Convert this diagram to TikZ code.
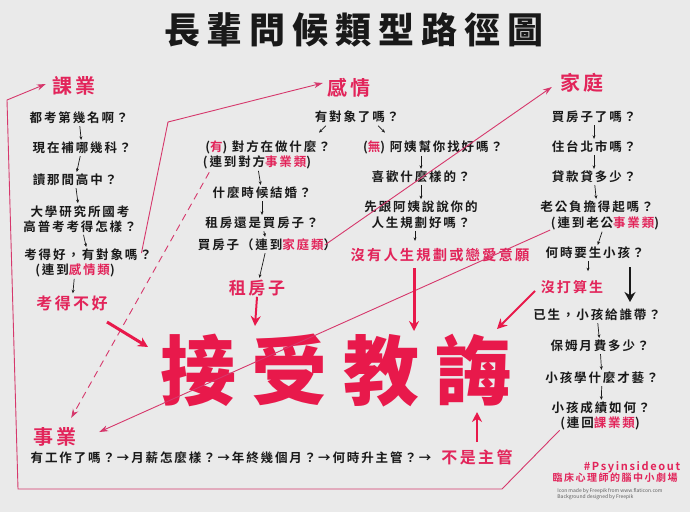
\documentclass[tikz,border=0pt]{standalone}
\usepackage{fontspec}
\usetikzlibrary{arrows.meta}
\newfontfamily\cjk{Noto Sans CJK TC}[BoldFont={Noto Sans CJK TC Bold},LetterSpace=15]
\newfontfamily\cjkw{Noto Sans CJK TC}[BoldFont={Noto Sans CJK TC Black}]
\definecolor{pk}{RGB}{226,36,90}
\definecolor{bigc}{RGB}{232,25,75}
\definecolor{ln}{RGB}{214,56,108}
\definecolor{bg}{RGB}{234,234,234}
\definecolor{ink}{RGB}{25,25,25}
\begin{document}
\begin{tikzpicture}[x=1pt,y=-1pt,
 q/.style={font=\cjk\bfseries\fontsize{12.5}{15.5}\selectfont, text=ink, inner sep=0.5pt, align=center},
 hd/.style={font=\cjk\bfseries\fontsize{20}{22}\selectfont, text=pk, inner sep=0.5pt},
 pq/.style={font=\cjk\bfseries\fontsize{#1}{#1}\selectfont, text=pk, inner sep=0.5pt},
 sa/.style={draw=ink, line width=0.7pt, shorten <=1.5pt, shorten >=1.5pt, -{Stealth[length=3.5pt,width=3pt]}},
 link/.style={draw=ln, line width=0.9pt},
 linka/.style={link, -{Stealth[length=9pt,width=6pt]}},
 fat/.style={draw=bigc, line width=#1, -{Stealth[length=10pt,width=10pt]}},
]
\fill[bg] (0,0) rectangle (690,512);
\useasboundingbox (0,0) rectangle (690,512);

% title
\node[font=\cjkw\bfseries\fontsize{36}{40}\selectfont, text=ink, inner sep=0] (title) at (354,30)
 {長\hspace{7pt}輩\hspace{7pt}問\hspace{7pt}候\hspace{7pt}類\hspace{7pt}型\hspace{7pt}路\hspace{7pt}徑\hspace{7pt}圖};

% big text
\node[font=\cjkw\bfseries\fontsize{76}{80}\selectfont, text=bigc, inner sep=0] (big) at (336,371)
 {接\hspace{16pt}受\hspace{16pt}教\hspace{16pt}誨};

% left column
\node[hd] (kye) at (74,86) {課業};
\node[q] (k1) at (79,118) {都考第幾名啊？};
\node[q] (k2) at (82,148) {現在補哪幾科？};
\node[q] (k3) at (75,180) {讀那間高中？};
\node[q] (k4) at (80,219) {大學研究所國考\\高普考考得怎樣？};
\node[q] (k5) at (88,255) {考得好，有對象嗎？};
\node[q] (k5b) at (75,270) {(連到\textcolor{pk}{感情類})};
\node[pq=16] (kbad) at (72,303) {考得不好};
\draw[sa] (k1) -- (k2);
\draw[sa] (k2) -- (k3);
\draw[sa] (k3) -- (k4);
\draw[sa] (k4) -- (k5);
\draw[sa] (k5b) -- (kbad);

% middle column
\node[hd] (gq) at (349,88) {感情};
\node[q] (g0) at (357,117) {有對象了嗎？};
\node[q] (gy1) at (268,147) {(\textcolor{pk}{有}) 對方在做什麼？};
\node[q] (gy2) at (257,162) {(連到對方\textcolor{pk}{事業類})};
\node[q] (gy3) at (262,193) {什麼時候結婚？};
\node[q] (gy4) at (262,223) {租房還是買房子？};
\node[q] (gy5) at (267,245) {買房子（連到\textcolor{pk}{家庭類}）};
\node[pq=17] (grent) at (257,288) {租房子};
\node[q] (gn1) at (433,147) {(\textcolor{pk}{無}) 阿姨幫你找好嗎？};
\node[q] (gn2) at (421,177) {喜歡什麼樣的？};
\node[q] (gn3) at (421,215) {先跟阿姨說說你的\\人生規劃好嗎？};
\node[pq=14.3] (gnone) at (440,255) {沒有人生規劃或戀愛意願};
\draw[sa] (g0.south) ++(-30,1) -- ++(-9,9);
\draw[sa] (g0.south) ++(20,1) -- ++(9,9);
\draw[sa] (gy2) -- (gy3);
\draw[sa] (gy3) -- (gy4);
\draw[sa] (gy4) -- (gy5);
\draw[sa] (gy5) -- (grent);
\draw[sa] (gn1.south -| gn2.south) -- (gn2);
\draw[sa] (gn2) -- (gn3);
\draw[sa] (gn3.south) ++(-6,0) -- ++(0,13);

% right column
\node[hd] (jt) at (582,83) {家庭};
\node[q] (j1) at (594,117) {買房子了嗎？};
\node[q] (j2) at (594,147) {住台北市嗎？};
\node[q] (j3) at (594,177) {貸款貸多少？};
\node[q] (j4) at (597,207) {老公負擔得起嗎？};
\node[q] (j4b) at (605,223) {(連到老公\textcolor{pk}{事業類})};
\node[q] (j5) at (595,253) {何時要生小孩？};
\node[pq=14] (jno) at (572,287) {沒打算生};
\node[q] (j6) at (597,315) {已生，小孩給誰帶？};
\node[q] (j7) at (600,346) {保姆月費多少？};
\node[q] (j8) at (602,378) {小孩學什麼才藝？};
\node[q] (j9) at (601,408) {小孩成績如何？};
\node[q] (j9b) at (600,423) {(連回\textcolor{pk}{課業類})};
\draw[sa] (j1) -- (j2);
\draw[sa] (j2) -- (j3);
\draw[sa] (j3) -- (j4);
\draw[sa] (j4b) -- (j5);
\draw[sa] (j5.south) ++(-7,0) -- ++(0,13);
\draw[sa] (j6) -- (j7);
\draw[sa] (j7) -- (j8);
\draw[sa] (j8) -- (j9);

% bottom
\node[hd] (sy) at (55,437) {事業};
\node[q, anchor=west] (s1) at (30,458) {有工作了嗎？→月薪怎麼樣？→年終幾個月？→何時升主管？→};
\node[pq=16] (snot) at (477,457) {不是主管};

\node[font=\cjk\bfseries\fontsize{11}{12}\selectfont, text=pk, inner sep=0] (tag) at (632,467) {\#Psyinsideout};
\node[font=\cjk\bfseries\fontsize{10}{12}\selectfont, text=pk, inner sep=0] (tag2) at (615,478) {臨床心理師的腦中小劇場};
\node[font=\cjkw\fontsize{5}{6}\selectfont, text=ink!70, inner sep=0, align=left] (cred) at (610,494)
 {Icon made by Freepik from www.flaticon.com\\Background designed by Freepik};

% coordinates for bends / free ends
\coordinate (L1a) at (502,489);
\coordinate (L1b) at (18,489);
\coordinate (L1c) at (7,100);
\coordinate (L2a) at (168,122);
\coordinate (A1s) at (107,322);
\coordinate (A1e) at (148,347);
\coordinate (A2e) at (255,326);
\coordinate (A3s) at (414,268);
\coordinate (A3e) at (414,331);
\coordinate (A4s) at (535,291);
\coordinate (A4e) at (497,329);
\coordinate (A5s) at (477,442);
\coordinate (A5e) at (477,412);
\coordinate (B1s) at (630,267);
\coordinate (B1e) at (630,302);

% long connectors
\draw[linka] (j9b.south west) -- (L1a) -- (L1b) -- (L1c) -- ([xshift=-6pt,yshift=2pt]kye.west);
\draw[linka] ([xshift=-11pt,yshift=2pt]k5.east) -- (L2a) -- ([xshift=-4pt,yshift=5pt]gq.west);
\draw[link, dash pattern=on 7pt off 5pt, -{Stealth[length=9pt,width=6pt]}] ([xshift=7pt,yshift=-3pt]gy2.south west) -- ([xshift=-6pt,yshift=9pt]sy.north east);
\draw[linka] ([xshift=-12pt]gy5.east) -- ([xshift=-8pt,yshift=-4pt]jt.west);
\draw[linka] ([yshift=-7pt]j4b.west) -- ([xshift=22pt,yshift=5pt]sy.east);

% arrows into big text
\draw[fat=3pt] (A1s) -- (A1e);
\draw[fat=2pt] (grent.south) -- (A2e);
\draw[fat=3pt] (A3s) -- (A3e);
\draw[fat=2pt] (A4s) -- (A4e);
\draw[fat=2pt] (A5s) -- (A5e);
\draw[draw=ink, line width=2.6pt, -{Stealth[length=10pt,width=11pt]}] (B1s) -- (B1e);
\end{tikzpicture}
\end{document}
